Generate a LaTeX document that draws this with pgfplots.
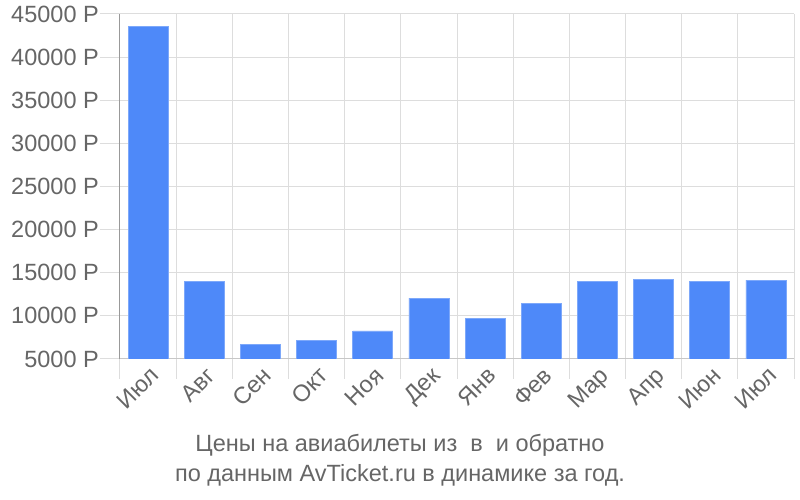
\documentclass[border=0pt]{standalone}
\usepackage{pgfplots}
\pgfplotsset{compat=1.18}
\usepackage{fontspec}
\setmainfont{Liberation Sans}
\definecolor{barblue}{RGB}{78,137,249}
\definecolor{baredge}{RGB}{125,168,250}
\definecolor{txtgray}{RGB}{102,102,102}
\definecolor{gridgray}{RGB}{221,221,221}
\begin{document}
\begin{tikzpicture}
\path[use as bounding box] (-120pt,-141pt) rectangle (680pt,359pt);
\begin{axis}[
  at={(0pt,0pt)}, anchor=south west,
  scale only axis, width=674pt, height=345pt,
  xmin=0, xmax=12, ymin=5000, ymax=45000,
  axis x line*=bottom, axis y line*=left,
  x axis line style={draw=black!22, line width=1pt},
  y axis line style={draw=black!40, line width=1pt},
  xtick={0,1,...,12}, xticklabels={},
  extra x ticks={0.5,1.5,...,11.5},
  extra x tick labels={Июл,Авг,Сен,Окт,Ноя,Дек,Янв,Фев,Мар,Апр,Июн,Июл},
  extra x tick style={major tick length=0pt, grid=none,
    tick style={draw=none}},
  ytick={5000,10000,...,45000},
  yticklabels={5000 Р,10000 Р,15000 Р,20000 Р,25000 Р,30000 Р,35000 Р,40000 Р,45000 Р},
  scaled y ticks=false,
  tick align=outside, xtick pos=bottom, ytick pos=left,
  tick style={draw=gridgray, line width=1pt},
  major tick length=20pt,
  grid=major,
  grid style={draw=gridgray, line width=1pt},
  tick label style={font=\fontsize{23.5}{28}\selectfont, text=txtgray},
  yticklabel style={inner sep=1pt},
  xticklabel style={xshift=1pt, yshift=-5pt, rotate=45, anchor=north east, inner sep=1pt},
  ybar, bar width=40pt,
]
\addplot[fill=barblue, draw=baredge, line width=0.8pt] coordinates {
  (0.5,43600) (1.5,14000) (2.5,6700) (3.5,7200) (4.5,8250) (5.5,12050)
  (6.5,9750) (7.5,11450) (8.5,14000) (9.5,14250) (10.5,14000) (11.5,14150)
};
\end{axis}
\node[align=center, text=txtgray, font=\fontsize{23.5}{30}\selectfont, anchor=center]
  at (280pt,-101pt) {Цены на авиабилеты из\ \ в\ \ и обратно\\по данным AvTicket.ru в динамике за год.};
\end{tikzpicture}
\end{document}
